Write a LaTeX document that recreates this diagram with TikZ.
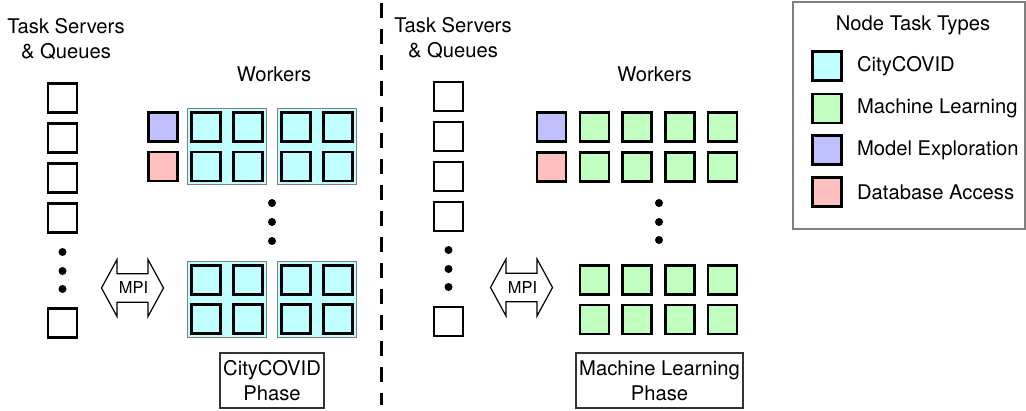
\documentclass[tikz,border=0pt]{standalone}
\usepackage{fontspec}
\setmainfont{TeX Gyre Heros}
\usepackage{tikz}
\usetikzlibrary{positioning,fit,backgrounds}
\definecolor{colorcc}{HTML}{C0FFFF}
\definecolor{colorml}{HTML}{C0FFC0}
\definecolor{colorme}{HTML}{C0C0FF}
\definecolor{colordb}{HTML}{FFC0C0}
\tikzset{
  txt/.style={inner sep=0pt},
  task/.style={draw=black, line width=1.2pt, minimum size=14.5pt, inner sep=0pt},
  queue/.style={task, fill=white},
  taskcc/.style={task, fill=colorcc},
  taskml/.style={task, fill=colorml},
  taskme/.style={task, fill=colorme},
  taskdb/.style={task, fill=colordb},
  group/.style={draw=gray, line width=0.5pt, fill=colorcc, inner sep=1.4pt},
  vdot/.style={circle, fill=black, inner sep=0pt, minimum size=4pt},
  phasebox/.style={draw=black!80, line width=0.6pt, align=center, inner sep=0pt, minimum height=27.5pt},
  mpitxt/.style={inner sep=0pt, font=\fontsize{8.2}{9}\selectfont},
  divider/.style={black, line width=1.5pt, dash pattern=on 7.5pt off 5.5pt},
  keyframe/.style={draw=gray, line width=0.6pt},
  mpishape/.pic={
    \draw[black, line width=0.6pt] (-31,0) -- (-15.5,-28.5) -- (-15.5,-14.2)
      -- (15.5,-14.2) -- (15.5,-28.5) -- (31,0) -- (15.5,28.5) -- (15.5,14.2)
      -- (-15.5,14.2) -- (-15.5,28.5) -- cycle;
  }
}

\begin{document}
\begin{tikzpicture}[x=0.5pt, y=-0.5pt, font=\fontsize{10.1}{12.5}\selectfont]
\useasboundingbox (0,0) rectangle (1026,411);

% phase divider
\draw[divider] (381.5,3) -- (381.5,405);

% CityCOVID phase
\node[txt, align=center] (servL) at (66,39.5) {Task Servers\\\& Queues};
\foreach \i/\y in {1/98,2/138,3/178,4/218,5/323}
  \node[queue] (qL\i) at (62.5,\y) {};
\foreach \i/\y in {1/252,2/271,3/289}
  \node[vdot] (qdotL\i) at (62.5,\y) {};

\node[txt] (workL) at (274,74) {Workers};
\node[taskme] (meL) at (163,127) {};
\node[taskdb] (dbL) at (163,166.5) {};
\foreach \r/\y in {1/127,2/166.5,3/280,4/319}
  \foreach \c/\x in {1/206,2/248,3/296,4/338}
    \node[taskcc] (ccL\r\c) at (\x,\y) {};
\begin{scope}[on background layer]
\node[group, fit=(ccL11)(ccL22)] (grpL1) {};
\node[group, fit=(ccL13)(ccL24)] (grpL2) {};
\node[group, fit=(ccL31)(ccL42)] (grpL3) {};
\node[group, fit=(ccL33)(ccL44)] (grpL4) {};
\end{scope}
\foreach \i/\y in {1/203,2/222,3/241}
  \node[vdot] (wdotL\i) at (272,\y) {};

\pic at (132.5,288) {mpishape};
\node[mpitxt] (mpiL) at (133.5,288) {MPI};

\node[phasebox, minimum width=52pt] (phaseL) at (272,380.5) {CityCOVID\\Phase};

% Machine Learning phase
\node[txt, align=center] (servR) at (453,38) {Task Servers\\\& Queues};
\foreach \i/\y in {1/96.5,2/136.5,3/176.5,4/216.5,5/321.5}
  \node[queue] (qR\i) at (448.5,\y) {};
\foreach \i/\y in {1/250,2/269,3/287}
  \node[vdot] (qdotR\i) at (448.5,\y) {};

\node[txt] (workR) at (654.5,74) {Workers};
\node[taskme] (meR) at (551.5,127) {};
\node[taskdb] (dbR) at (551.5,167) {};
\foreach \r/\y in {1/127,2/167,3/280,4/319.5}
  \foreach \c/\x in {1/594.5,2/637,3/680,4/722.5}
    \node[taskml] (mlR\r\c) at (\x,\y) {};
\foreach \i/\y in {1/203,2/222,3/240}
  \node[vdot] (wdotR\i) at (659,\y) {};

\pic at (521.5,287.5) {mpishape};
\node[mpitxt] (mpiR) at (522.5,287.5) {MPI};

\node[phasebox, minimum width=83.5pt] (phaseR) at (659.5,380.5) {Machine Learning\\Phase};

% legend
\draw[keyframe] (793,2) rectangle (1025,229);
\node[txt] (keytitle) at (913,25) {Node Task Types};
\node[taskcc] (keycc) at (827,66) {};
\node[taskml] (keyml) at (827,108.5) {};
\node[taskme] (keyme) at (827,150) {};
\node[taskdb] (keydb) at (827,192) {};
\node[txt, right=7pt of keycc] (keycctxt) {CityCOVID};
\node[txt, right=7pt of keyml] (keymltxt) {Machine Learning};
\node[txt, right=7pt of keyme] (keymetxt) {Model Exploration};
\node[txt, right=7pt of keydb] (keydbtxt) {Database Access};
\end{tikzpicture}
\end{document}
